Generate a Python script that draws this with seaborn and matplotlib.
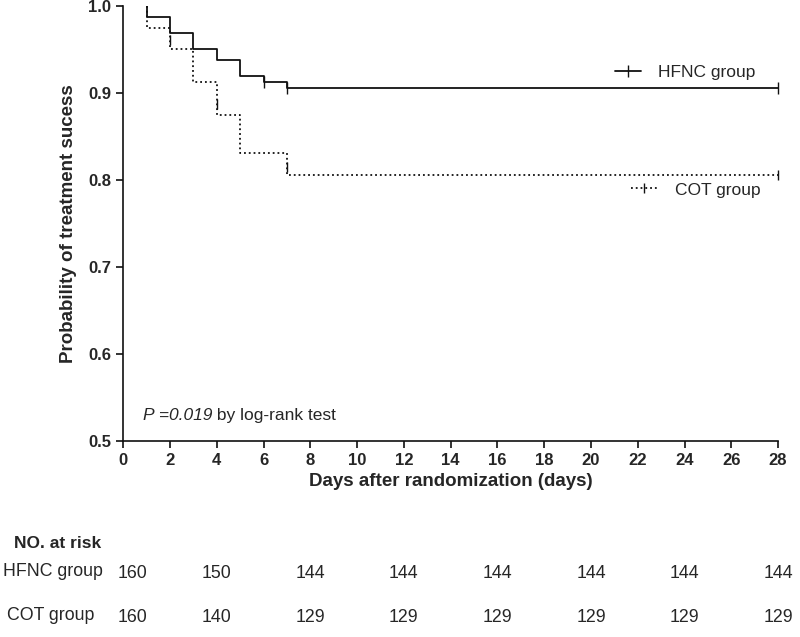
import pandas as pd
import matplotlib.pyplot as plt
import matplotlib.transforms as mtransforms
from matplotlib.lines import Line2D
import seaborn as sns

# Kaplan-Meier step values
hfnc_days = [1, 1, 2, 3, 4, 5, 6, 7, 28]
hfnc_surv = [1.0, 0.9875, 0.969, 0.95, 0.9375, 0.919, 0.9125, 0.906, 0.906]
cot_days = [1, 1, 2, 3, 4, 5, 7, 28]
cot_surv = [1.0, 0.975, 0.95, 0.9125, 0.875, 0.831, 0.806, 0.806]

# censor marks
hfnc_cens_days = [6, 7, 28]
hfnc_cens_surv = [0.9125, 0.906, 0.906]
cot_cens_days = [2, 4, 7, 28]
cot_cens_surv = [0.961, 0.8875, 0.815, 0.806]

# number at risk table
risk_days = [0, 4, 8, 12, 16, 20, 24, 28]
hfnc_risk = [160, 150, 144, 144, 144, 144, 144, 144]
cot_risk = [160, 140, 129, 129, 129, 129, 129, 129]

sns.set_style("ticks")
plt.rcParams['font.family'] = ['Liberation Sans', 'DejaVu Sans']

fig = plt.figure(figsize=(8, 6.37), dpi=100)
ax = fig.add_axes([0.154, 0.3077, 0.8186, 0.683])

hfnc = pd.DataFrame({"day": hfnc_days, "surv": hfnc_surv})
cot = pd.DataFrame({"day": cot_days, "surv": cot_surv})

sns.lineplot(data=hfnc, x="day", y="surv", estimator=None, sort=False,
             drawstyle="steps-post", color="#111111", linewidth=1.3, ax=ax)
sns.lineplot(data=cot, x="day", y="surv", estimator=None, sort=False,
             drawstyle="steps-post", color="#111111", linewidth=1.3,
             linestyle=":", ax=ax)

ax.plot(hfnc_cens_days, hfnc_cens_surv, linestyle="none", marker="|",
        markersize=8, color="#111111", clip_on=False)
ax.plot(cot_cens_days, cot_cens_surv, linestyle="none", marker="|",
        markersize=7, color="#111111", clip_on=False)

ax.set_xlim(0, 28)
ax.set_ylim(0.5, 1.0)
ax.set_xticks(range(0, 29, 2))
ax.set_yticks([0.5, 0.6, 0.7, 0.8, 0.9, 1.0])
ax.set_yticklabels(["0.5", "0.6", "0.7", "0.8", "0.9", "1.0"])
ax.tick_params(axis="both", direction="out", length=5, width=1.2,
               labelsize=12, color="#111111")
for lab in ax.get_xticklabels() + ax.get_yticklabels():
    lab.set_fontweight("bold")
sns.despine(ax=ax)
for s in ["left", "bottom"]:
    ax.spines[s].set_linewidth(1.2)
    ax.spines[s].set_color("#111111")

ax.set_xlabel("Days after randomization (days)", fontsize=13.5,
              fontweight="bold", labelpad=4)
ax.set_ylabel("Probability of treatment sucess", fontsize=13.5,
              fontweight="bold", labelpad=8)

t1 = ax.text(0.03, 0.058, "P =0.019", style="italic",
             transform=ax.transAxes, fontsize=12.5, va="center")
ax.annotate(" by log-rank test", xy=(1, 0.5), xycoords=t1, fontsize=12.5,
            va="center", ha="left")

# separate legend entries
h1 = Line2D([], [], color="#111111", linewidth=1.3, marker="|", markersize=8)
h2 = Line2D([], [], color="#111111", linewidth=1.3, linestyle=":",
            marker="|", markersize=7)
leg1 = ax.legend([h1], ["HFNC group"], loc="center left",
                 bbox_to_anchor=(0.74, 0.848), frameon=False, fontsize=12.5,
                 handlelength=1.5, handletextpad=1.0, borderaxespad=0)
ax.add_artist(leg1)
ax.legend([h2], ["COT group"], loc="center left",
          bbox_to_anchor=(0.765, 0.577), frameon=False, fontsize=12.5,
          handlelength=1.5, handletextpad=1.0, borderaxespad=0)

# number at risk table
trans = mtransforms.blended_transform_factory(ax.transData, fig.transFigure)
first_col = trans + mtransforms.ScaledTranslation(0.09, 0, fig.dpi_scale_trans)
fig.text(0.018, 1 - 544 / 637, "NO. at risk", fontsize=12.5,
         fontweight="bold", va="center")
fig.text(0.066, 1 - 572 / 637, "HFNC group", fontsize=12.8,
         ha="center", va="center")
fig.text(0.063, 1 - 616 / 637, "COT group", fontsize=12.8,
         ha="center", va="center")
for d, n in zip(risk_days, hfnc_risk):
    ax.text(d, 1 - 573 / 637, str(n), transform=first_col if d == 0 else trans,
            fontsize=12.8, ha="center", va="center", clip_on=False)
for d, n in zip(risk_days, cot_risk):
    ax.text(d, 1 - 617 / 637, str(n), transform=first_col if d == 0 else trans,
            fontsize=12.8, ha="center", va="center", clip_on=False)

fig.savefig("out.png", dpi=100)
